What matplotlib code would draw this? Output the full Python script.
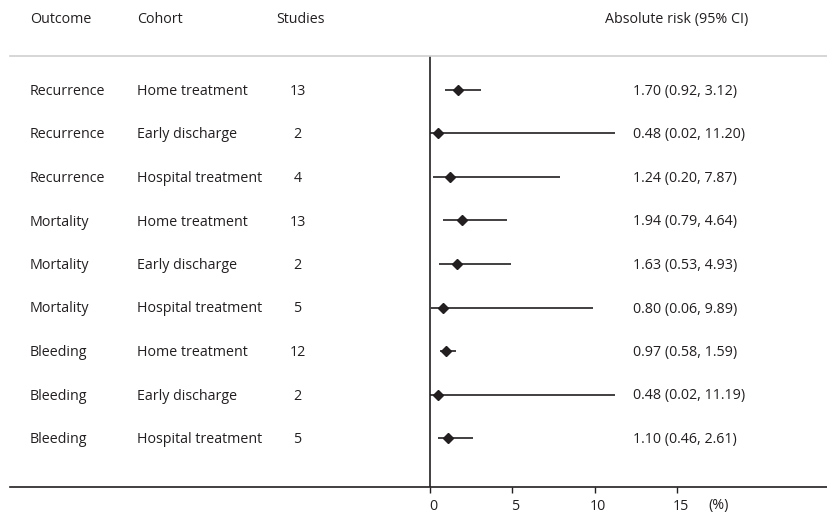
import matplotlib
matplotlib.use("Agg")
import matplotlib.pyplot as plt
import matplotlib.transforms as mtransforms

outcomes = ["Recurrence", "Recurrence", "Recurrence", "Mortality", "Mortality", "Mortality",
            "Bleeding", "Bleeding", "Bleeding"]
cohorts = ["Home treatment", "Early discharge", "Hospital treatment"] * 3
studies = [13, 2, 4, 13, 2, 5, 12, 2, 5]
risk = [1.70, 0.48, 1.24, 1.94, 1.63, 0.80, 0.97, 0.48, 1.10]
lower = [0.92, 0.02, 0.20, 0.79, 0.53, 0.06, 0.58, 0.02, 0.46]
upper = [3.12, 11.20, 7.87, 4.64, 4.93, 9.89, 1.59, 11.19, 2.61]
xticks = [0, 5, 10, 15]
headers = ["Outcome", "Cohort", "Studies", "Absolute risk (95% CI)"]

W, H = 827, 515
TXT = "#231f20"
plt.rcParams['font.family'] = ['Open Sans', 'DejaVu Sans']
FS = 10.3

fig = plt.figure(figsize=(W / 100, H / 100), dpi=100)
# axes spans px x 10..827, y 56..487
ax = fig.add_axes([10 / W, (H - 487) / H, (W - 10) / W, (487 - 56) / H])

PX_PER_UNIT = 16.49
X0 = 430
ROW0, ROWSTEP = 90, 43.5


def xd(px):
    return (px - X0) / PX_PER_UNIT


def yd(py):
    return (py - ROW0) / ROWSTEP


ax.set_xlim(xd(10), xd(W))
ax.set_ylim(yd(487), yd(56))

for s in ["left", "right"]:
    ax.spines[s].set_visible(False)
ax.spines["top"].set_color("#d0d0d0")
ax.spines["top"].set_linewidth(1.2)
ax.spines["bottom"].set_color(TXT)
ax.spines["bottom"].set_linewidth(1.2)
ax.set_yticks([])
ax.set_xticks(xticks)
ax.set_xticklabels([str(t) for t in xticks])
ax.tick_params(axis="x", direction="out", length=4.5, width=1.0, color=TXT,
               labelsize=FS, labelcolor=TXT, pad=4.5)
shift = mtransforms.ScaledTranslation(3 / 100, 0, fig.dpi_scale_trans)
for lab in ax.get_xticklabels():
    lab.set_transform(lab.get_transform() + shift)

ax.axvline(0, color=TXT, lw=1.2)

n = len(risk)
rows = list(range(n))
for i in rows:
    ax.plot([lower[i], upper[i]], [i, i], color=TXT, lw=1.2, solid_capstyle="butt")
ax.plot(risk, rows, linestyle="none", marker="D", color=TXT, markersize=5.5)

# small downward nudge so text sits on the row like the reference
down = mtransforms.ScaledTranslation(0, -1.5 / 100, fig.dpi_scale_trans)
tt = ax.transData + down

for i in rows:
    ax.text(xd(30), i, outcomes[i], ha="left", va="center", fontsize=FS, color=TXT, transform=tt)
    ax.text(xd(137), i, cohorts[i], ha="left", va="center", fontsize=FS, color=TXT, transform=tt)
    ax.text(xd(297.5), i, str(studies[i]), ha="center", va="center", fontsize=FS, color=TXT,
            transform=tt)
    ax.text(xd(633), i, f"{risk[i]:.2f} ({lower[i]:.2f}, {upper[i]:.2f})",
            ha="left", va="center", fontsize=FS, color=TXT, transform=tt)

hy = yd(18)
for xpx, h in zip([30, 137, 276, 605], headers):
    ax.text(xd(xpx), hy, h, ha="left", va="center", fontsize=FS, color=TXT, clip_on=False,
            transform=tt)

ax.text(xd(708), yd(505), "(%)", ha="left", va="center", fontsize=FS, color=TXT, clip_on=False)

fig.savefig("out.png", dpi=100)
